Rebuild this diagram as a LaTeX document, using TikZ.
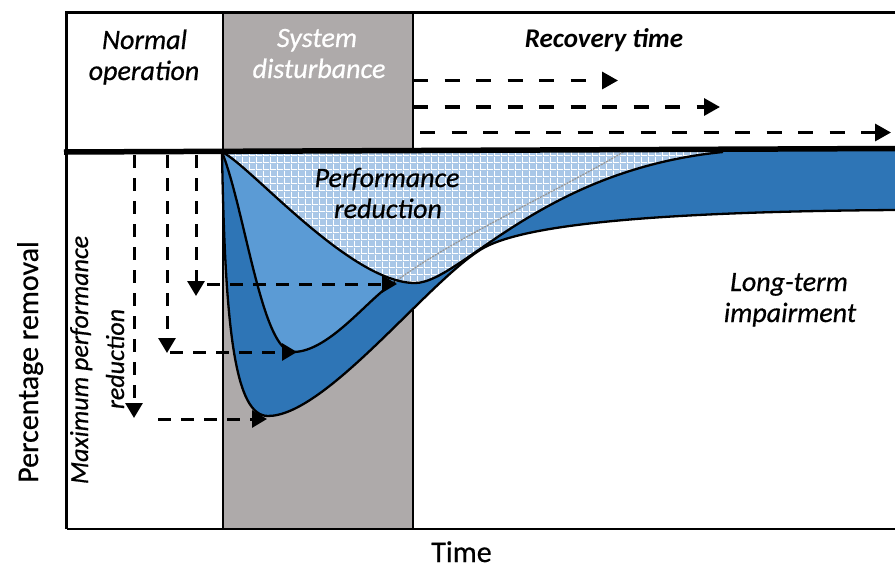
\documentclass[tikz,border=0pt]{standalone}
\usepackage{fontspec}
\setmainfont{Carlito}[UprightFeatures={FakeBold=0.6},ItalicFeatures={FakeBold=0.6}]
\usetikzlibrary{arrows.meta,patterns}
\definecolor{dblue}{HTML}{2E75B6}
\definecolor{mblue}{HTML}{5B9BD5}
\definecolor{lblue}{HTML}{A9C7E7}
\definecolor{band}{HTML}{AEAAAA}
\definecolor{trace}{HTML}{959595}
\pgfdeclarepatternformonly{hgrid}{\pgfpointorigin}{\pgfqpoint{6.5pt}{6.5pt}}{\pgfqpoint{6.5pt}{6.5pt}}{%
  \pgfsetlinewidth{1pt}%
  \pgfpathmoveto{\pgfqpoint{0pt}{0.5pt}}\pgfpathlineto{\pgfqpoint{6.5pt}{0.5pt}}%
  \pgfpathmoveto{\pgfqpoint{0.5pt}{0pt}}\pgfpathlineto{\pgfqpoint{0.5pt}{6.5pt}}%
  \pgfusepath{stroke}}
\tikzset{
  lbl/.style={font=\fontsize{28}{34}\selectfont\itshape, inner sep=0pt, anchor=base},
  axislbl/.style={font=\fontsize{30}{36}\selectfont, inner sep=0pt, anchor=base},
  maxlbl/.style={font=\fontsize{26}{31}\selectfont\itshape, inner sep=0pt, anchor=base, rotate=90},
  reclbl/.style={font=\fontsize{27}{32}\selectfont\bfseries\itshape, inner sep=0pt, anchor=base},
  curve/.style={line width=2.3pt, line join=round},
  framel/.style={line width=2.5pt},
  bandl/.style={line width=2pt},
  leftarr/.style={line width=3pt, dash pattern=on 13pt off 10pt, -{Triangle[length=15pt,width=17pt]}},
  recarr/.style={line width=3.3pt, dash pattern=on 15pt off 16.5pt, -{Triangle[length=16pt,width=17pt]}},
  tracel/.style={draw=trace, line width=1.3pt, dash pattern=on 2pt off 1pt},
}
\begin{document}
\begin{tikzpicture}[x=1pt,y=-1pt]
\useasboundingbox (0,0) rectangle (895,568);
\clip (0,0) rectangle (895,568);
\fill[white] (0,0) rectangle (895,568);
% disturbance band
\fill[band] (223,12) rectangle (413,528);
\draw[bandl] (223,12) -- (223,528);
\draw[bandl] (413,12) -- (413,528);
% dark blue band (outer curve to baseline)
\fill[dblue] (222,152) .. controls (225,330) and (235,416) .. (268,416)
  .. controls (325,416) and (425,285) .. (480,250)
  .. controls (510,231) and (600,212) .. (896,210) -- (896,150) -- (222,150) -- cycle;
% medium blue region
\fill[mblue] (222,152) .. controls (245,210) and (262,352) .. (293,352)
  .. controls (330,352) and (370,296) .. (395,282) -- (395,150) -- (222,150) -- cycle;
% hatched performance-reduction region
\fill[lblue, postaction={pattern=hgrid, pattern color=white}]
  (222,152) .. controls (250,165) and (350,283) .. (415,283)
  .. controls (460,283) and (540,170) .. (723,152) -- (723,150) -- (222,150) -- cycle;
% faint trace
\draw[tracel] (395,282) .. controls (450,240) and (560,190) .. (625,151);
% outlines
\draw[curve] (222,152) .. controls (225,330) and (235,416) .. (268,416)
  .. controls (325,416) and (425,285) .. (480,250)
  .. controls (510,231) and (600,212) .. (896,210);
\draw[curve] (222,152) .. controls (245,210) and (262,352) .. (293,352)
  .. controls (330,352) and (370,296) .. (395,282);
\draw[curve] (222,152) .. controls (250,165) and (350,283) .. (415,283)
  .. controls (460,283) and (540,170) .. (723,152);
% frame
\draw[framel] (66.5,529) -- (66.5,12.5) -- (896,12.5);
\draw[framel] (66.5,529) -- (896,529);
% baseline
\draw[line width=5.5pt] (64,152) -- (896,148.5);
% arrow end points
\coordinate (v1s) at (134,155); \coordinate (v1e) at (134,418);
\coordinate (h1s) at (158,419); \coordinate (h1e) at (267,419);
\coordinate (v2s) at (167,155); \coordinate (v2e) at (167,353);
\coordinate (h2s) at (170,352); \coordinate (h2e) at (297,352);
\coordinate (v3s) at (196,155); \coordinate (v3e) at (196,296);
\coordinate (h3s) at (207,284); \coordinate (h3e) at (397,284);
\coordinate (r1s) at (413,80.5); \coordinate (r1e) at (618,80.5);
\coordinate (r2s) at (413,107); \coordinate (r2e) at (720,107);
\coordinate (r3s) at (420,132.5); \coordinate (r3e) at (891,132.5);
\draw[leftarr] (v1s) -- (v1e);
\draw[leftarr] (h1s) -- (h1e);
\draw[leftarr] (v2s) -- (v2e);
\draw[leftarr] (h2s) -- (h2e);
\draw[leftarr] (v3s) -- (v3e);
\draw[leftarr] (h3s) -- (h3e);
\draw[recarr] (r1s) -- (r1e);
\draw[recarr] (r2s) -- (r2e);
\draw[recarr] (r3s) -- (r3e);
% labels
\node[lbl] (norm1) at (144.5,49) {Normal};
\node[lbl] (norm2) at (144,80) {operation};
\node[lbl, text=white] (sys1) at (317,47) {System};
\node[lbl, text=white] (sys2) at (319,78) {disturbance};
\node[reclbl] (rec) at (604,47) {Recovery time};
\node[lbl] (perf1) at (387,187) {Performance};
\node[lbl] (perf2) at (388,218) {reduction};
\node[lbl] (long1) at (789,291) {Long-term};
\node[lbl] (long2) at (790,322) {impairment};
\node[axislbl] (time) at (461.5,562) {Time};
\node[axislbl, rotate=90] (pct) at (38,362) {Percentage removal};
\node[maxlbl] (max1) at (88,360) {Maximum performance};
\node[maxlbl] (max2) at (124,359) {reduction};
\end{tikzpicture}
\end{document}
